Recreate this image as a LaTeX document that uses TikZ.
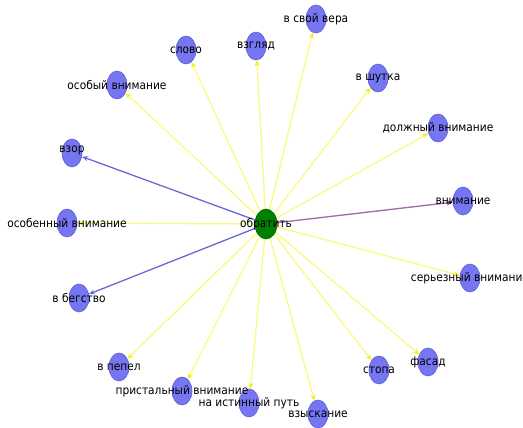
\documentclass[tikz,border=0pt]{standalone}
\usepackage{fontspec}
\setmainfont{DejaVu Sans Condensed}
\usetikzlibrary{shapes.geometric,arrows.meta,backgrounds}
\definecolor{nodeblue}{RGB}{118,118,242}
\definecolor{nodeblueline}{RGB}{92,92,215}
\definecolor{nodegreen}{RGB}{0,128,0}
\definecolor{nodegreenline}{RGB}{0,100,0}
\definecolor{edgeyellow}{RGB}{250,250,130}
\definecolor{tipyellow}{RGB}{240,240,20}
\definecolor{edgeblue}{RGB}{105,105,215}
\definecolor{edgepurple}{RGB}{160,105,165}
\definecolor{tippurple}{RGB}{120,50,120}
\tikzset{
  dot/.style={ellipse, fill=nodeblue, draw=nodeblueline, line width=0.6pt,
    minimum width=20pt, minimum height=28pt, inner sep=0pt},
  hub/.style={ellipse, fill=nodegreen, draw=nodegreenline, line width=0.6pt,
    minimum width=22pt, minimum height=30pt, inner sep=0pt},
  lbl/.style={font=\fontsize{11.8pt}{13pt}\selectfont, text=black, inner sep=0pt},
  yedge/.style={draw=edgeyellow, line width=1.3pt,
    -{Stealth[length=6pt,width=5pt,color=tipyellow]}},
  bedge/.style={draw=edgeblue, line width=1.3pt,
    -{Stealth[length=6pt,width=5pt,color=edgeblue]}},
  pedge/.style={draw=edgepurple, line width=1.3pt,
    -{Stealth[length=6pt,width=5pt,color=tippurple]}},
}
\begin{document}
\begin{tikzpicture}[x=1pt,y=-1pt]
\useasboundingbox (0,0) rectangle (523,428);
% nodes
\node[hub] (c) at (266,224) {};
\node[dot] (n1) at (316,19) {};
\node[dot] (n2) at (256,46) {};
\node[dot] (n3) at (186,50) {};
\node[dot] (n4) at (378,78) {};
\node[dot] (n5) at (117,85) {};
\node[dot] (n6) at (438,128) {};
\node[dot] (n7) at (72,153) {};
\node[dot] (n8) at (463,201) {};
\node[dot] (n9) at (67,223) {};
\node[dot] (n10) at (79,298) {};
\node[dot] (n11) at (470,278) {};
\node[dot] (n12) at (428,362) {};
\node[dot] (n13) at (379,370) {};
\node[dot] (n14) at (119,367) {};
\node[dot] (n15) at (182,391) {};
\node[dot] (n16) at (249,403) {};
\node[dot] (n17) at (318,414) {};
% edges
\begin{pgfonlayer}{background}
\foreach \n in {n1,n2,n3,n4,n5,n6,n9,n11,n12,n13,n14,n15,n16,n17}
  \draw[yedge] (c) -- (\n);
\draw[bedge] (c) -- (n7);
\draw[bedge] (c) -- (n10);
\draw[pedge] (c) -- (n8);
\end{pgfonlayer}
% labels
\node[lbl] (t0) at (c) {обратить};
\node[lbl] (t1) at (n1) {в свой вера};
\node[lbl] (t2) at (n2) {взгляд};
\node[lbl] (t3) at (n3) {слово};
\node[lbl] (t4) at (n4) {в шутка};
\node[lbl] (t5) at (n5) {особый внимание};
\node[lbl] (t6) at (n6) {должный внимание};
\node[lbl] (t7) at (72,150) {взор};
\node[lbl] (t8) at (n8) {внимание};
\node[lbl] (t9) at (n9) {особенный внимание};
\node[lbl] (t10) at (n10) {в бегство};
\node[lbl] (t11) at (n11) {серьезный внимание};
\node[lbl] (t12) at (n12) {фасад};
\node[lbl] (t13) at (n13) {стопа};
\node[lbl] (t14) at (n14) {в пепел};
\node[lbl] (t15) at (n15) {пристальный внимание};
\node[lbl] (t16) at (n16) {на истинный путь};
\node[lbl] (t17) at (n17) {взыскание};
\end{tikzpicture}
\end{document}
